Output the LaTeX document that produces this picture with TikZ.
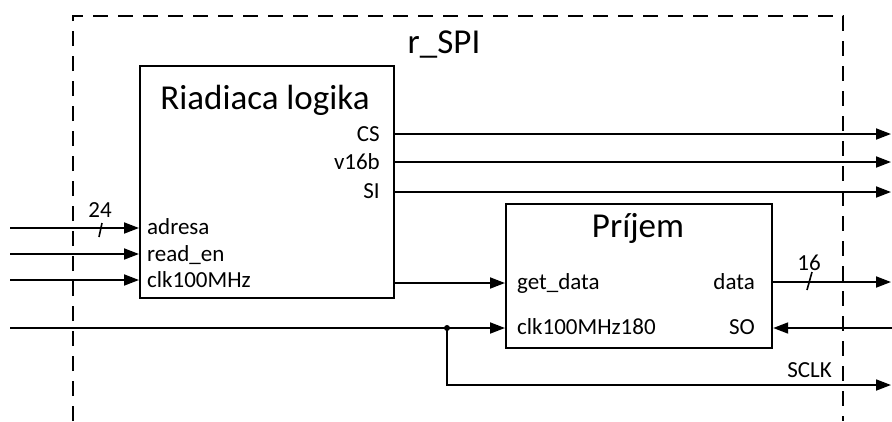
\documentclass[tikz,border=0pt]{standalone}
\usepackage{fontspec}
\setmainfont{Carlito}
\usetikzlibrary{arrows.meta}

\tikzset{
  blockbox/.style={draw, line width=2.2pt, rectangle, inner sep=0pt, anchor=north west},
  wire/.style={line width=1.8pt},
  sig/.style={wire, -{Triangle[length=15pt,width=11pt]}},
  frame/.style={line width=1.8pt, dash pattern=on 15pt off 10pt},
  title/.style={font=\fontsize{35}{40}\selectfont, inner sep=0pt},
  port/.style={font=\fontsize{23}{27}\selectfont, inner sep=0pt},
  busmark/.style={line width=1.6pt},
  junction/.style={circle, fill, inner sep=0pt, minimum size=6pt},
}

\begin{document}
\begin{tikzpicture}[x=1pt, y=-1pt]
  \useasboundingbox (0,0) rectangle (892,421);

  % module frame r_SPI (open at the bottom)
  \draw[frame] (73,421) -- (73,16) -- (843,16) -- (843,421);
  \node[title, anchor=base] (mod) at (444,53) {r\_SPI};

  % control logic block
  \node[blockbox, minimum width=254pt, minimum height=232pt] (rl) at (139,65) {};
  \node[title, anchor=base] (rltitle) at (265,109) {Riadiaca logika};

  % receiver block
  \node[blockbox, minimum width=266pt, minimum height=144pt] (rx) at (505,203) {};
  \node[title, anchor=base] (rxtitle) at (638,237) {Príjem};

  % ports of the control logic
  \node[port, anchor=base east] (pCS)  at (380,141) {CS};
  \node[port, anchor=base east] (pV)   at (380,169) {v16b};
  \node[port, anchor=base east] (pSI)  at (380,198) {SI};
  \node[port, anchor=base west] (pAdr) at (147,234) {adresa};
  \node[port, anchor=base west] (pRd)  at (147,261) {read\_en};
  \node[port, anchor=base west] (pClk) at (147,287) {clk100MHz};

  % ports of the receiver
  \node[port, anchor=base west] (pGet) at (517,289) {get\_data};
  \node[port, anchor=base west] (pC180) at (517,334) {clk100MHz180};
  \node[port, anchor=base east] (pData) at (755,289) {data};
  \node[port, anchor=base east] (pSO)  at (755,334) {SO};

  % outer ends of the wires
  \coordinate (inAdr) at (10,228);
  \coordinate (inRd)  at (10,254);
  \coordinate (inClk) at (10,280);
  \coordinate (inC180) at (10,328);
  \coordinate (outCS) at (891,134);
  \coordinate (outV)  at (891,162);
  \coordinate (outSI) at (891,192);
  \coordinate (outData) at (891,282);
  \coordinate (inSO)  at (892,328);
  \coordinate (outSCLK) at (891,385);
  \coordinate (getY)  at (0,283);

  % inputs into the control logic
  \draw[sig] (inAdr) -- (rl.west |- inAdr);
  \draw[sig] (inRd)  -- (rl.west |- inRd);
  \draw[sig] (inClk) -- (rl.west |- inClk);

  % outputs of the control logic
  \draw[sig] (rl.east |- outCS) -- (outCS);
  \draw[sig] (rl.east |- outV)  -- (outV);
  \draw[sig] (rl.east |- outSI) -- (outSI);
  \draw[sig] (rl.east |- getY) -- (rx.west |- getY);

  % receiver connections
  \draw[sig] (inC180) -- (rx.west |- inC180);
  \node[junction] (jn) at (447,328) {};
  \draw[sig] (jn.center) |- (outSCLK);
  \draw[sig] (rx.east |- outData) -- (outData);
  \draw[sig] (inSO) -- (rx.east |- inSO);
  \node[port, anchor=base east] (lSCLK) at (832,377) {SCLK};

  % bus width marks
  \coordinate (busA) at (100.5,230);
  \draw[busmark] ([shift={(-1.5,7)}]busA) -- ([shift={(1.5,-7)}]busA);
  \node[port] (wA) at (100,210) {24};
  \coordinate (busD) at (809.5,281);
  \draw[busmark] ([shift={(-2.5,9)}]busD) -- ([shift={(2.5,-9)}]busD);
  \node[port] (wD) at (809,263) {16};
\end{tikzpicture}
\end{document}
